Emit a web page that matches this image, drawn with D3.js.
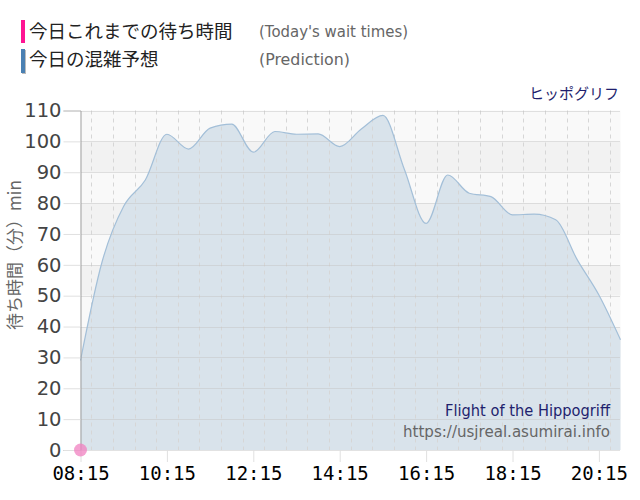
<!DOCTYPE html>
<html>
<head>
<meta charset="utf-8">
<script src="https://cdn.jsdelivr.net/npm/d3@7"></script>
<style>
  body { margin: 0; background: #fff; }
  svg { display: block; }
</style>
</head>
<body>
<svg id="chart" width="640" height="500"></svg>
<script>
// half-hour slots and the predicted wait (min)
var times = ['08:15','08:45','09:15','09:45','10:15','10:45','11:15','11:45','12:15','12:45',
             '13:15','13:45','14:15','14:45','15:15','15:45','16:15','16:45','17:15','17:45',
             '18:15','18:45','19:15','19:45','20:15','20:45'];
var prediction = [29, 61, 79, 87.5, 102.3, 97.5, 104.3, 105.6, 96.5, 103.2,
                  102.3, 102.4, 98.3, 104, 108.4, 90.8, 73.4, 89.1, 83.2, 82.1,
                  76.2, 76.4, 74.6, 61.6, 50.2, 35.7];
// today's actual waits so far
var actualTimes = ['08:15'];
var actual = [0];

var xTickLabels = ['08:15','10:15','12:15','14:15','16:15','18:15','20:15'];
var yTicks = [0,10,20,30,40,50,60,70,80,90,100,110];

var parseTime = d3.timeParse('%H:%M');
var svg = d3.select('#chart');

var plotLeft = 80.5, plotRight = 620.5, plotTop = 110.5, plotBottom = 450;

var x = d3.scaleTime()
    .domain([parseTime('08:15'), parseTime('20:45')])
    .range([plotLeft, plotRight]);
var y = d3.scaleLinear()
    .domain([0, 110])
    .range([plotBottom, plotTop]);

var predData = times.map(function(t, i){ return {t: parseTime(t), v: prediction[i]}; });
var actData = actualTimes.map(function(t, i){ return {t: parseTime(t), v: actual[i]}; });

// background bands
var bands = d3.range(0, 110, 10);
svg.append('g').selectAll('rect')
    .data(bands)
    .enter().append('rect')
    .attr('x', plotLeft)
    .attr('width', plotRight - plotLeft)
    .attr('y', function(d){ return y(d + 10); })
    .attr('height', function(d){ return y(d) - y(d + 10); })
    .attr('fill', function(d){ return (d / 10) % 2 === 0 ? '#f9f9f9' : '#f2f2f2'; });

// prediction area
var area = d3.area()
    .x(function(d){ return x(d.t); })
    .y0(y(0))
    .y1(function(d){ return y(d.v); })
    .curve(d3.curveMonotoneX);
var line = d3.line()
    .x(function(d){ return x(d.t); })
    .y(function(d){ return y(d.v); })
    .curve(d3.curveMonotoneX);

svg.append('path')
    .datum(predData)
    .attr('d', area)
    .attr('fill', '#d9e3eb');

// vertical grid, every 30 min
var halfHours = d3.timeMinute.every(30).range(parseTime('08:15'), parseTime('20:46'));
var majors = xTickLabels.map(function(s){ return +parseTime(s); });
svg.append('g').selectAll('line')
    .data(halfHours)
    .enter().append('line')
    .attr('x1', function(d){ return Math.round(x(d)) + 0.5; })
    .attr('x2', function(d){ return Math.round(x(d)) + 0.5; })
    .attr('y1', plotTop)
    .attr('y2', plotBottom)
    .attr('stroke', function(d){ return majors.indexOf(+d) >= 0 ? '#c4c4c4' : '#d6d6d6'; })
    .attr('stroke-dasharray', function(d){ return majors.indexOf(+d) >= 0 ? '1,1' : '4,4'; });

// horizontal grid
svg.append('g').selectAll('line')
    .data(yTicks)
    .enter().append('line')
    .attr('x1', plotLeft)
    .attr('x2', plotRight)
    .attr('y1', function(d){ return Math.round(y(d)) + 0.5; })
    .attr('y2', function(d){ return Math.round(y(d)) + 0.5; })
    .attr('stroke', '#c4c4c4')
    .attr('stroke-dasharray', '1,1');

svg.append('path')
    .datum(predData)
    .attr('d', line)
    .attr('fill', 'none')
    .attr('stroke', '#a3bfd8')
    .attr('stroke-width', 1.2);

// y axis
var yAxis = d3.axisLeft(y).tickValues(yTicks).tickSize(17).tickPadding(2);
var yG = svg.append('g')
    .attr('transform', 'translate(' + plotLeft + ',0)')
    .call(yAxis);
yG.select('.domain').attr('stroke', '#a0a0a0');
yG.selectAll('.tick line').attr('stroke', '#e0e0e0');
yG.selectAll('.tick text')
    .attr('fill', '#444')
    .style('font-family', 'DejaVu Sans, Verdana, sans-serif')
    .style('font-size', '19.5px');

// x axis
var xAxis = d3.axisBottom(x)
    .tickValues(xTickLabels.map(parseTime))
    .tickFormat(d3.timeFormat('%H:%M'))
    .tickSize(12).tickPadding(5);
var xG = svg.append('g')
    .attr('transform', 'translate(0,' + plotBottom + ')')
    .call(xAxis);
xG.select('.domain').remove();
xG.selectAll('.tick line').attr('stroke', '#e0e0e0');
xG.selectAll('.tick text')
    .attr('fill', '#000')
    .style('font-family', 'DejaVu Sans Mono, monospace')
    .style('font-size', '19px');

// today's points
svg.append('g').selectAll('circle')
    .data(actData)
    .enter().append('circle')
    .attr('cx', function(d){ return x(d.t); })
    .attr('cy', function(d){ return y(d.v); })
    .attr('r', 6.5)
    .attr('fill', '#f080c0')
    .attr('fill-opacity', 0.75);

// y label
svg.append('text')
    .attr('transform', 'translate(21,255) rotate(-90)')
    .attr('text-anchor', 'middle')
    .attr('fill', '#666')
    .style('font-family', 'Noto Sans CJK JP, sans-serif')
    .style('font-size', '17px')
    .text('待ち時間（分）min');

// legend
var cjk = 'Noto Sans CJK JP, sans-serif';
svg.append('rect').attr('x', 21).attr('y', 20).attr('width', 4).attr('height', 23).attr('fill', '#ff1493');
svg.append('rect').attr('x', 22).attr('y', 50).attr('width', 4).attr('height', 24).attr('fill', '#bbb');
svg.append('rect').attr('x', 21).attr('y', 49).attr('width', 4).attr('height', 24).attr('fill', '#4a80b2');
svg.append('text').attr('x', 29).attr('y', 38).attr('fill', '#222')
    .style('font-family', cjk).style('font-size', '18.5px')
    .text('今日これまでの待ち時間');
svg.append('text').attr('x', 29).attr('y', 66).attr('fill', '#222')
    .style('font-family', cjk).style('font-size', '18.5px')
    .text('今日の混雑予想');
svg.append('text').attr('x', 259).attr('y', 37).attr('fill', '#666')
    .attr('textLength', 149).attr('lengthAdjust', 'spacingAndGlyphs')
    .style('font-family', 'DejaVu Sans, sans-serif').style('font-size', '15px')
    .text("(Today's wait times)");
svg.append('text').attr('x', 259).attr('y', 65).attr('fill', '#666')
    .attr('textLength', 91).attr('lengthAdjust', 'spacingAndGlyphs')
    .style('font-family', 'DejaVu Sans, sans-serif').style('font-size', '15px')
    .text('(Prediction)');

svg.append('text').attr('x', 619).attr('y', 99).attr('text-anchor', 'end').attr('fill', '#1f1f6e')
    .style('font-family', cjk).style('font-size', '15px')
    .text('ヒッポグリフ');

svg.append('text').attr('x', 610).attr('y', 416).attr('text-anchor', 'end').attr('fill', '#1f1f6e')
    .attr('textLength', 165).attr('lengthAdjust', 'spacingAndGlyphs')
    .style('font-family', 'DejaVu Sans, sans-serif').style('font-size', '15px')
    .text('Flight of the Hippogriff');
svg.append('text').attr('x', 610).attr('y', 437).attr('text-anchor', 'end').attr('fill', '#666')
    .attr('textLength', 207).attr('lengthAdjust', 'spacingAndGlyphs')
    .style('font-family', 'DejaVu Sans, sans-serif').style('font-size', '15px')
    .text('https://usjreal.asumirai.info');
</script>
</body>
</html>
